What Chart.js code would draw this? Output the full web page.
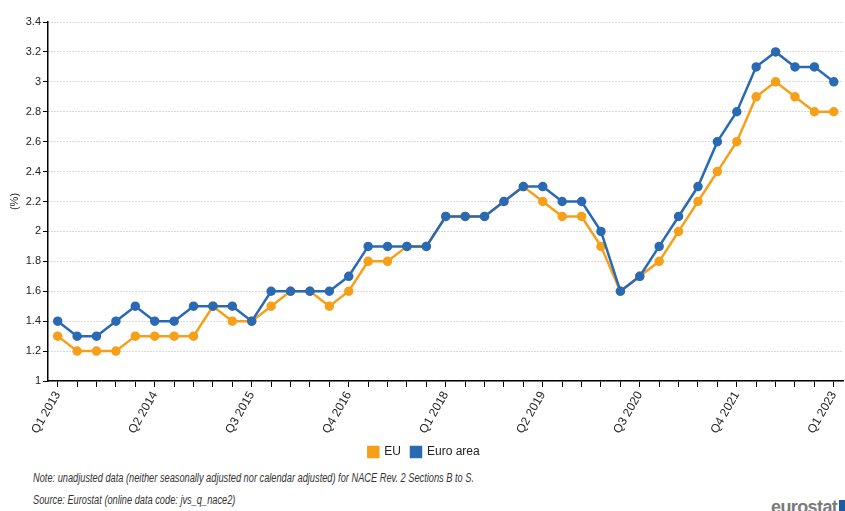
<!DOCTYPE html>
<html>
<head>
<meta charset="utf-8">
<script src="https://cdn.jsdelivr.net/npm/chart.js@4.4.0/dist/chart.umd.min.js"></script>
<style>
  html, body { margin: 0; padding: 0; background: #fff; }
  #wrap { position: relative; width: 845px; height: 511px; overflow: hidden; font-family: "Liberation Sans", Arial, sans-serif; }
  #c { position: absolute; left: 0; top: 0; }
  .note { position: absolute; left: 33px; font-family: "Liberation Sans", Arial, sans-serif; font-style: italic; font-size: 12px; color: #333; white-space: nowrap; transform: scaleX(0.77); transform-origin: 0 0; }
  #logo { position: absolute; left: 771px; top: 497px; font-family: "Liberation Sans", Arial, sans-serif; font-size: 18px; font-weight: bold; color: #7a7a7a; letter-spacing: -0.6px; white-space: nowrap; }
  #logo span { display: inline-block; width: 13px; height: 15px; background: #1c5aa6; vertical-align: -2px; margin-left: 2px; }
</style>
</head>
<body>
<div id="wrap">
  <canvas id="c" width="850" height="468"></canvas>
  <div class="note" style="top:471px;">Note: unadjusted data (neither seasonally adjusted nor calendar adjusted) for NACE Rev. 2 Sections B to S.</div>
  <div class="note" style="top:493px;">Source: Eurostat (online data code: jvs_q_nace2)</div>
  <div id="logo">eurostat<span></span></div>
</div>
<script>
const years = [2013,2014,2015,2016,2017,2018,2019,2020,2021,2022,2023];
const categories = [];
for (const y of years) for (let q = 1; q <= 4; q++) { if (y === 2023 && q > 1) break; categories.push('Q' + q + ' ' + y); }

const euValues = [1.3,1.2,1.2,1.2,1.3,1.3,1.3,1.3,1.5,1.4,1.4,1.5,1.6,1.6,1.5,1.6,1.8,1.8,1.9,1.9,2.1,2.1,2.1,2.2,2.3,2.2,2.1,2.1,1.9,1.6,1.7,1.8,2.0,2.2,2.4,2.6,2.9,3.0,2.9,2.8,2.8];
const euroAreaValues = [1.4,1.3,1.3,1.4,1.5,1.4,1.4,1.5,1.5,1.5,1.4,1.6,1.6,1.6,1.6,1.7,1.9,1.9,1.9,1.9,2.1,2.1,2.1,2.2,2.3,2.3,2.2,2.2,2.0,1.6,1.7,1.9,2.1,2.3,2.6,2.8,3.1,3.2,3.1,3.1,3.0];
const yTicks = [1,1.2,1.4,1.6,1.8,2,2.2,2.4,2.6,2.8,3,3.2,3.4];

const ORANGE = '#f6a01a';
const BLUE = '#2a6ab4';
const txt = '#222';
const fam = '"Liberation Sans", Arial, sans-serif';

new Chart(document.getElementById('c'), {
  type: 'line',
  data: {
    labels: categories,
    datasets: [
      { label: 'EU', data: euValues, borderColor: ORANGE, backgroundColor: ORANGE, pointBackgroundColor: ORANGE, pointBorderColor: ORANGE, borderWidth: 2.5, pointRadius: 3.5, tension: 0, order: 2 },
      { label: 'Euro area', data: euroAreaValues, borderColor: BLUE, backgroundColor: BLUE, pointBackgroundColor: BLUE, pointBorderColor: BLUE, borderWidth: 2.5, pointRadius: 3.5, tension: 0, order: 1 }
    ]
  },
  options: {
    responsive: false,
    animation: false,
    events: [],
    layout: { padding: { left: 0, right: 2, top: 22, bottom: 0 } },
    plugins: {
      tooltip: { enabled: false },
      legend: {
        position: 'bottom',
        labels: { boxWidth: 10, boxHeight: 10, padding: 10, color: txt, font: { family: fam, size: 12 },
          sort: (a, b) => a.datasetIndex - b.datasetIndex }
      }
    },
    scales: {
      x: {
        offset: true,
        afterFit: (s) => { s.height = 55; },
        border: { color: '#000', width: 1.5 },
        grid: { drawOnChartArea: false, drawTicks: true, tickLength: 6, tickColor: '#000', offset: false },
        ticks: {
          autoSkip: false, maxRotation: 60, minRotation: 60, color: txt, font: { family: fam, size: 12 }, padding: 2,
          callback: function(v, i) { return i % 5 === 0 ? categories[i] : ''; }
        }
      },
      y: {
        min: 1, max: 3.4,
        afterFit: (s) => { s.width = 48; },
        afterBuildTicks: (s) => { s.ticks = yTicks.map(v => ({ value: v })); },
        border: { color: '#000', width: 1.5, dash: [1, 2] },
        grid: { color: '#b4b4b4', tickColor: '#000', tickLength: 5, drawTicks: true, tickBorderDash: [] },
        ticks: { color: txt, font: { family: fam, size: 11 }, padding: 2, callback: (v) => String(Number(v.toFixed(1))) },
        title: { display: true, text: '(%)', color: txt, font: { family: fam, size: 11 }, padding: { top: 8, bottom: 0 } }
      }
    }
  }
});
</script>
</body>
</html>
